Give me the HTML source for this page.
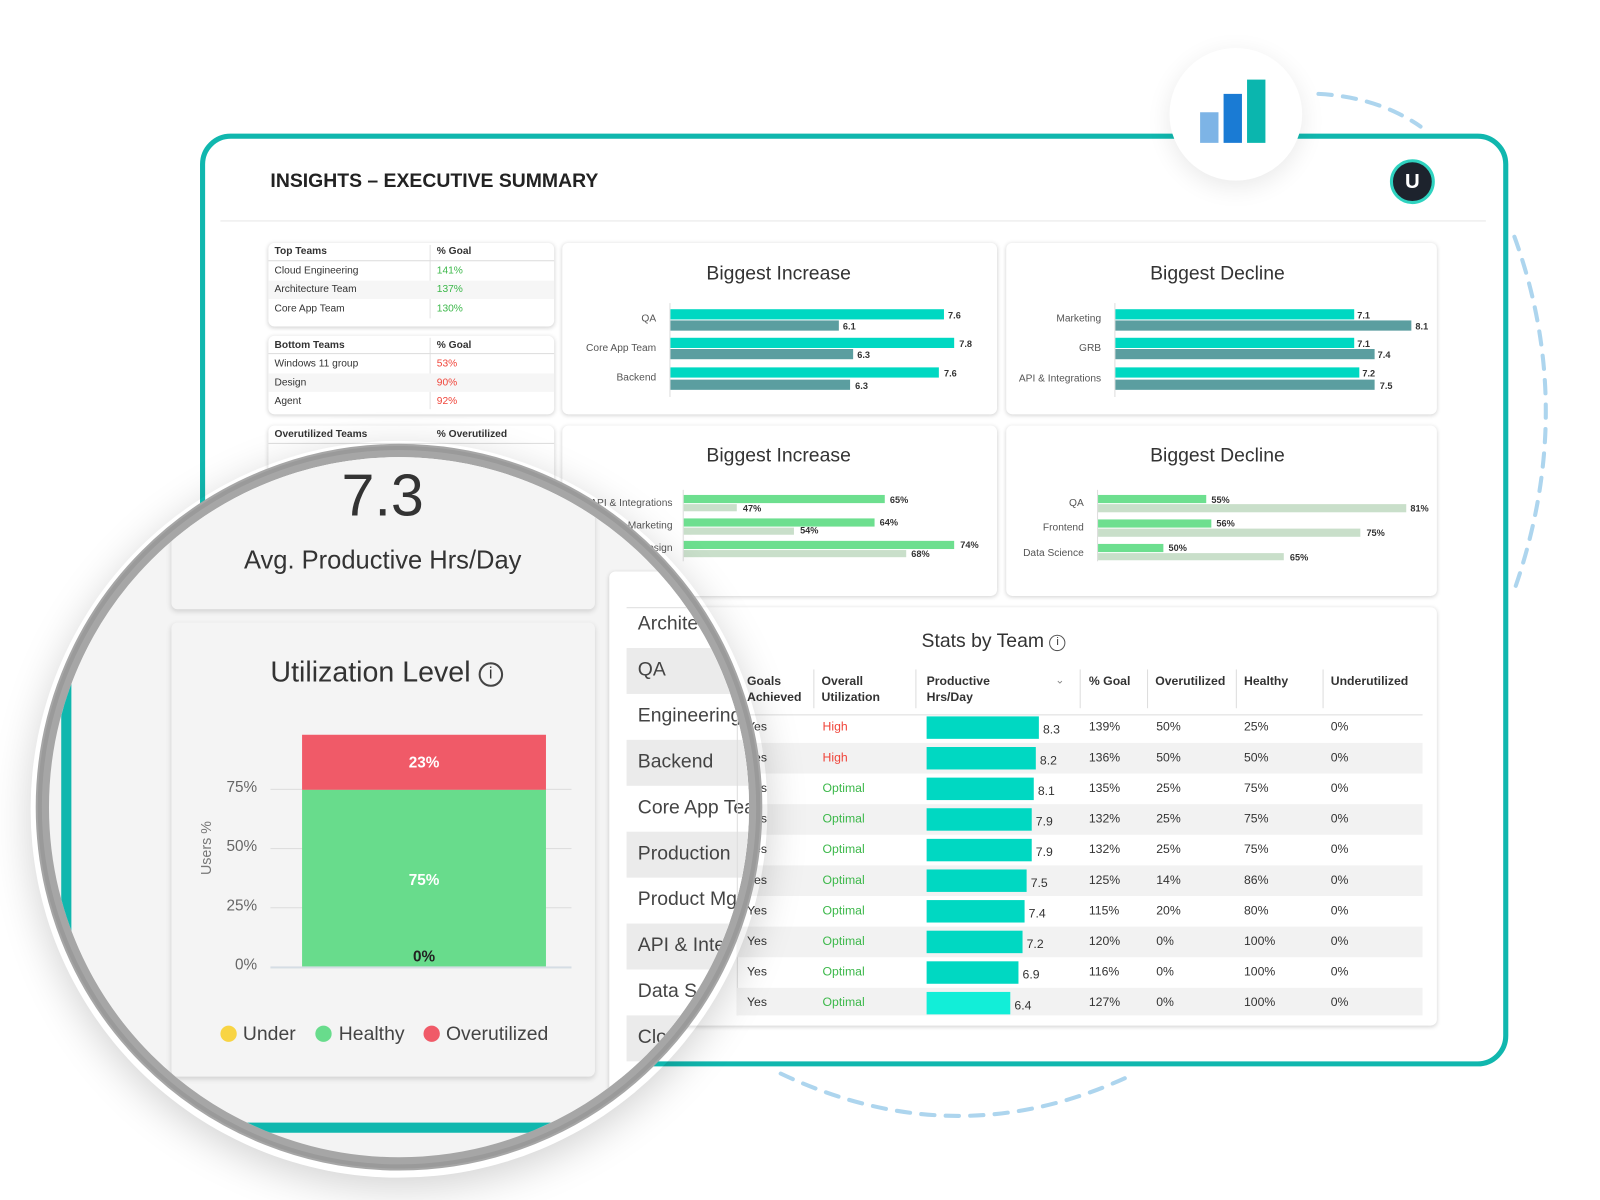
<!DOCTYPE html>
<html><head><meta charset="utf-8">
<style>
*{margin:0;padding:0;box-sizing:border-box}
html,body{width:1600px;height:1200px;overflow:hidden;background:#fff;font-family:"Liberation Sans",sans-serif;color:#333}
#w{position:absolute;left:0;top:0;width:1570px;height:1176px;transform:scale(1.0205);transform-origin:0 0}
.a{position:absolute}
.t{position:absolute;white-space:nowrap}
.card{position:absolute;background:#fff;border-radius:6px;box-shadow:0 1px 4px rgba(0,0,0,.18)}
.sm{font-size:10px;color:#333}
.vl{font-size:9px;font-weight:bold;color:#333}
.lb{font-size:10px;color:#555;text-align:right;width:120px}
.ttl{font-size:19px;color:#333;text-align:center;width:300px}
.tc{background:#00d8c2}.dk{background:#5b9ea0}.gr{background:#6ddf8f}.lg{background:#c9dfca}
.hd{font-size:12px;font-weight:bold;color:#333;line-height:16px}
.cell{font-size:12px;color:#333}
</style></head><body>
<div id="w">
<svg class="a" style="left:0;top:0" width="1560" height="1170">
<g fill="none" stroke="#add5ee" stroke-width="4" stroke-dasharray="13 11" stroke-linecap="round">
<path d="M1292 92 Q1350 95 1392 124"/>
<path d="M1484 232 Q1545 400 1485 575"/>
<path d="M765 1052 Q940 1135 1112 1052"/>
</g></svg>
<div class="a" style="left:196px;top:131px;width:1282px;height:914px;border:5px solid #10b7ae;border-radius:30px;background:#fff"></div>
<div class="t" style="left:265px;top:167px;font-size:19px;font-weight:bold;color:#222">INSIGHTS – EXECUTIVE SUMMARY</div>
<div class="a" style="left:216px;top:216px;width:1240px;height:1px;background:#e6e6e6"></div>
<div class="a" style="left:1362px;top:156px;width:44px;height:44px;border-radius:50%;background:#1d232d;border:3px solid #2fd3c0;color:#fff;font-weight:bold;font-size:20px;text-align:center;line-height:38px">U</div>
<div class="a" style="left:1146px;top:47px;width:130px;height:130px;border-radius:50%;background:#fff;box-shadow:0 6px 24px rgba(0,0,0,.09)"></div>
<div class="a" style="left:1176px;top:110px;width:18px;height:30px;background:#7db4e6"></div>
<div class="a" style="left:1199px;top:92px;width:18px;height:48px;background:#1a7bd4"></div>
<div class="a" style="left:1222px;top:78px;width:18px;height:62px;background:#0bb6ae"></div>

<div class="card" style="left:263px;top:238px;width:280px;height:82px"></div>
<div class="card" style="left:263px;top:329px;width:280px;height:77px"></div>
<div class="card" style="left:263px;top:417px;width:280px;height:120px"></div>
<div class="a" style="left:421px;top:240px;width:1px;height:72px;background:#e3e3e3"></div>
<div class="a" style="left:421px;top:331px;width:1px;height:70px;background:#e3e3e3"></div>
<div class="a" style="left:263px;top:255px;width:280px;height:1px;background:#ddd"></div>
<div class="a" style="left:263px;top:346px;width:280px;height:1px;background:#ddd"></div>
<div class="a" style="left:263px;top:434px;width:280px;height:1px;background:#ddd"></div>
<div class="a" style="left:263px;top:275px;width:280px;height:18px;background:#f6f6f6"></div>
<div class="a" style="left:263px;top:366px;width:280px;height:18px;background:#f6f6f6"></div>
<div class="t sm" style="left:269px;top:241px;font-weight:bold">Top Teams</div>
<div class="t sm" style="left:428px;top:241px;font-weight:bold">% Goal</div>
<div class="t sm" style="left:269px;top:260px">Cloud Engineering</div><div class="t sm" style="left:428px;top:260px;color:#3cb84a">141%</div>
<div class="t sm" style="left:269px;top:278px">Architecture Team</div><div class="t sm" style="left:428px;top:278px;color:#3cb84a">137%</div>
<div class="t sm" style="left:269px;top:297px">Core App Team</div><div class="t sm" style="left:428px;top:297px;color:#3cb84a">130%</div>
<div class="t sm" style="left:269px;top:333px;font-weight:bold">Bottom Teams</div>
<div class="t sm" style="left:428px;top:333px;font-weight:bold">% Goal</div>
<div class="t sm" style="left:269px;top:351px">Windows 11 group</div><div class="t sm" style="left:428px;top:351px;color:#f0453a">53%</div>
<div class="t sm" style="left:269px;top:370px">Design</div><div class="t sm" style="left:428px;top:370px;color:#f0453a">90%</div>
<div class="t sm" style="left:269px;top:388px">Agent</div><div class="t sm" style="left:428px;top:388px;color:#f0453a">92%</div>
<div class="t sm" style="left:269px;top:420px;font-weight:bold">Overutilized Teams</div>
<div class="t sm" style="left:428px;top:420px;font-weight:bold">% Overutilized</div>

<div class="card" style="left:551px;top:238px;width:426px;height:168px"></div>
<div class="t ttl" style="left:613px;top:258px">Biggest Increase</div>
<div class="a" style="left:656px;top:297px;width:1px;height:92px;background:#ddd"></div>
<div class="t lb" style="left:523px;top:307px">QA</div>
<div class="t lb" style="left:523px;top:336px">Core App Team</div>
<div class="t lb" style="left:523px;top:365px">Backend</div>
<div class="a tc" style="left:657px;top:303px;width:268px;height:10px"></div><div class="t vl" style="left:929px;top:304px">7.6</div>
<div class="a dk" style="left:657px;top:314px;width:165px;height:10px"></div><div class="t vl" style="left:826px;top:315px">6.1</div>
<div class="a tc" style="left:657px;top:331px;width:278px;height:10px"></div><div class="t vl" style="left:940px;top:332px">7.8</div>
<div class="a dk" style="left:657px;top:342px;width:179px;height:10px"></div><div class="t vl" style="left:840px;top:343px">6.3</div>
<div class="a tc" style="left:657px;top:360px;width:263px;height:10px"></div><div class="t vl" style="left:925px;top:361px">7.6</div>
<div class="a dk" style="left:657px;top:372px;width:176px;height:10px"></div><div class="t vl" style="left:838px;top:373px">6.3</div>

<div class="card" style="left:986px;top:238px;width:422px;height:168px"></div>
<div class="t ttl" style="left:1043px;top:258px">Biggest Decline</div>
<div class="a" style="left:1092px;top:297px;width:1px;height:92px;background:#ddd"></div>
<div class="t lb" style="left:959px;top:307px">Marketing</div>
<div class="t lb" style="left:959px;top:336px">GRB</div>
<div class="t lb" style="left:959px;top:366px">API &amp; Integrations</div>
<div class="a tc" style="left:1093px;top:303px;width:234px;height:10px"></div><div class="t vl" style="left:1330px;top:304px">7.1</div>
<div class="a dk" style="left:1093px;top:314px;width:290px;height:10px"></div><div class="t vl" style="left:1387px;top:315px">8.1</div>
<div class="a tc" style="left:1093px;top:331px;width:234px;height:10px"></div><div class="t vl" style="left:1330px;top:332px">7.1</div>
<div class="a dk" style="left:1093px;top:342px;width:254px;height:10px"></div><div class="t vl" style="left:1350px;top:343px">7.4</div>
<div class="a tc" style="left:1093px;top:360px;width:239px;height:10px"></div><div class="t vl" style="left:1335px;top:361px">7.2</div>
<div class="a dk" style="left:1093px;top:372px;width:254px;height:10px"></div><div class="t vl" style="left:1352px;top:373px">7.5</div>

<div class="card" style="left:551px;top:417px;width:426px;height:167px"></div>
<div class="t ttl" style="left:613px;top:436px">Biggest Increase</div>
<div class="a" style="left:669px;top:480px;width:1px;height:70px;background:#ddd"></div>
<div class="t lb" style="left:539px;top:488px">API &amp; Integrations</div>
<div class="t lb" style="left:539px;top:510px">Marketing</div>
<div class="t lb" style="left:539px;top:532px">Design</div>
<div class="a gr" style="left:670px;top:485px;width:197px;height:8px"></div><div class="t vl" style="left:872px;top:485px">65%</div>
<div class="a lg" style="left:670px;top:494px;width:52px;height:7px"></div><div class="t vl" style="left:728px;top:493px">47%</div>
<div class="a gr" style="left:670px;top:508px;width:187px;height:8px"></div><div class="t vl" style="left:862px;top:507px">64%</div>
<div class="a lg" style="left:670px;top:517px;width:108px;height:7px"></div><div class="t vl" style="left:784px;top:515px">54%</div>
<div class="a gr" style="left:670px;top:530px;width:265px;height:8px"></div><div class="t vl" style="left:941px;top:529px">74%</div>
<div class="a lg" style="left:670px;top:539px;width:218px;height:7px"></div><div class="t vl" style="left:893px;top:538px">68%</div>

<div class="card" style="left:986px;top:417px;width:422px;height:167px"></div>
<div class="t ttl" style="left:1043px;top:436px">Biggest Decline</div>
<div class="a" style="left:1075px;top:480px;width:1px;height:70px;background:#ddd"></div>
<div class="t lb" style="left:942px;top:488px">QA</div>
<div class="t lb" style="left:942px;top:512px">Frontend</div>
<div class="t lb" style="left:942px;top:537px">Data Science</div>
<div class="a gr" style="left:1076px;top:485px;width:106px;height:8px"></div><div class="t vl" style="left:1187px;top:485px">55%</div>
<div class="a lg" style="left:1076px;top:494px;width:302px;height:8px"></div><div class="t vl" style="left:1382px;top:493px">81%</div>
<div class="a gr" style="left:1076px;top:509px;width:111px;height:8px"></div><div class="t vl" style="left:1192px;top:508px">56%</div>
<div class="a lg" style="left:1076px;top:518px;width:257px;height:8px"></div><div class="t vl" style="left:1339px;top:517px">75%</div>
<div class="a gr" style="left:1076px;top:533px;width:64px;height:8px"></div><div class="t vl" style="left:1145px;top:532px">50%</div>
<div class="a lg" style="left:1076px;top:542px;width:182px;height:7px"></div><div class="t vl" style="left:1264px;top:541px">65%</div>

<div class="card" style="left:596px;top:595px;width:812px;height:410px"></div>
<div class="t" style="left:903px;top:618px;font-size:19px;color:#333">Stats by Team <span style="display:inline-block;width:16px;height:16px;border:1.5px solid #555;border-radius:50%;font-size:11px;text-align:center;line-height:13px;vertical-align:2px">i</span></div>
<div class="a" style="left:722px;top:700px;width:672px;height:1px;background:#ddd"></div>
<div class="t hd" style="left:732px;top:659px">Goals<br>Achieved</div>
<div class="t hd" style="left:805px;top:659px">Overall<br>Utilization</div>
<div class="t hd" style="left:908px;top:659px">Productive<br>Hrs/Day</div>
<div class="t" style="left:1034px;top:660px;font-size:11px;color:#888">⌄</div>
<div class="t hd" style="left:1067px;top:659px">% Goal</div>
<div class="t hd" style="left:1132px;top:659px">Overutilized</div>
<div class="t hd" style="left:1219px;top:659px">Healthy</div>
<div class="t hd" style="left:1304px;top:659px">Underutilized</div>
<div class="a" style="left:797px;top:656px;width:1px;height:38px;background:#ddd"></div>
<div class="a" style="left:897px;top:656px;width:1px;height:38px;background:#ddd"></div>
<div class="a" style="left:1058px;top:656px;width:1px;height:38px;background:#ddd"></div>
<div class="a" style="left:1124px;top:656px;width:1px;height:38px;background:#ddd"></div>
<div class="a" style="left:1211px;top:656px;width:1px;height:38px;background:#ddd"></div>
<div class="a" style="left:1296px;top:656px;width:1px;height:38px;background:#ddd"></div>
<div class="a" style="left:722px;top:700px;width:1px;height:295px;background:#ddd"></div>

<div class="a" style="left:722px;top:728px;width:672px;height:30px;background:#f2f2f2"></div>
<div class="a" style="left:722px;top:788px;width:672px;height:30px;background:#f2f2f2"></div>
<div class="a" style="left:722px;top:848px;width:672px;height:30px;background:#f2f2f2"></div>
<div class="a" style="left:722px;top:908px;width:672px;height:30px;background:#f2f2f2"></div>
<div class="a" style="left:722px;top:968px;width:672px;height:27px;background:#f2f2f2"></div>

<div class="t cell" style="left:732px;top:705px">Yes</div><div class="t cell" style="left:806px;top:705px;color:#f0453a">High</div><div class="a tc" style="left:908px;top:702px;width:110px;height:22px"></div><div class="t cell" style="left:1022px;top:708px">8.3</div><div class="t cell" style="left:1067px;top:705px">139%</div><div class="t cell" style="left:1133px;top:705px">50%</div><div class="t cell" style="left:1219px;top:705px">25%</div><div class="t cell" style="left:1304px;top:705px">0%</div>
<div class="t cell" style="left:732px;top:735px">Yes</div><div class="t cell" style="left:806px;top:735px;color:#f0453a">High</div><div class="a tc" style="left:908px;top:732px;width:107px;height:22px"></div><div class="t cell" style="left:1019px;top:738px">8.2</div><div class="t cell" style="left:1067px;top:735px">136%</div><div class="t cell" style="left:1133px;top:735px">50%</div><div class="t cell" style="left:1219px;top:735px">50%</div><div class="t cell" style="left:1304px;top:735px">0%</div>
<div class="t cell" style="left:732px;top:765px">Yes</div><div class="t cell" style="left:806px;top:765px;color:#3cb84a">Optimal</div><div class="a tc" style="left:908px;top:762px;width:105px;height:22px"></div><div class="t cell" style="left:1017px;top:768px">8.1</div><div class="t cell" style="left:1067px;top:765px">135%</div><div class="t cell" style="left:1133px;top:765px">25%</div><div class="t cell" style="left:1219px;top:765px">75%</div><div class="t cell" style="left:1304px;top:765px">0%</div>
<div class="t cell" style="left:732px;top:795px">Yes</div><div class="t cell" style="left:806px;top:795px;color:#3cb84a">Optimal</div><div class="a tc" style="left:908px;top:792px;width:103px;height:22px"></div><div class="t cell" style="left:1015px;top:798px">7.9</div><div class="t cell" style="left:1067px;top:795px">132%</div><div class="t cell" style="left:1133px;top:795px">25%</div><div class="t cell" style="left:1219px;top:795px">75%</div><div class="t cell" style="left:1304px;top:795px">0%</div>
<div class="t cell" style="left:732px;top:825px">Yes</div><div class="t cell" style="left:806px;top:825px;color:#3cb84a">Optimal</div><div class="a tc" style="left:908px;top:822px;width:103px;height:22px"></div><div class="t cell" style="left:1015px;top:828px">7.9</div><div class="t cell" style="left:1067px;top:825px">132%</div><div class="t cell" style="left:1133px;top:825px">25%</div><div class="t cell" style="left:1219px;top:825px">75%</div><div class="t cell" style="left:1304px;top:825px">0%</div>
<div class="t cell" style="left:732px;top:855px">Yes</div><div class="t cell" style="left:806px;top:855px;color:#3cb84a">Optimal</div><div class="a tc" style="left:908px;top:852px;width:98px;height:22px"></div><div class="t cell" style="left:1010px;top:858px">7.5</div><div class="t cell" style="left:1067px;top:855px">125%</div><div class="t cell" style="left:1133px;top:855px">14%</div><div class="t cell" style="left:1219px;top:855px">86%</div><div class="t cell" style="left:1304px;top:855px">0%</div>
<div class="t cell" style="left:732px;top:885px">Yes</div><div class="t cell" style="left:806px;top:885px;color:#3cb84a">Optimal</div><div class="a tc" style="left:908px;top:882px;width:96px;height:22px"></div><div class="t cell" style="left:1008px;top:888px">7.4</div><div class="t cell" style="left:1067px;top:885px">115%</div><div class="t cell" style="left:1133px;top:885px">20%</div><div class="t cell" style="left:1219px;top:885px">80%</div><div class="t cell" style="left:1304px;top:885px">0%</div>
<div class="t cell" style="left:732px;top:915px">Yes</div><div class="t cell" style="left:806px;top:915px;color:#3cb84a">Optimal</div><div class="a tc" style="left:908px;top:912px;width:94px;height:22px"></div><div class="t cell" style="left:1006px;top:918px">7.2</div><div class="t cell" style="left:1067px;top:915px">120%</div><div class="t cell" style="left:1133px;top:915px">0%</div><div class="t cell" style="left:1219px;top:915px">100%</div><div class="t cell" style="left:1304px;top:915px">0%</div>
<div class="t cell" style="left:732px;top:945px">Yes</div><div class="t cell" style="left:806px;top:945px;color:#3cb84a">Optimal</div><div class="a tc" style="left:908px;top:942px;width:90px;height:22px"></div><div class="t cell" style="left:1002px;top:948px">6.9</div><div class="t cell" style="left:1067px;top:945px">116%</div><div class="t cell" style="left:1133px;top:945px">0%</div><div class="t cell" style="left:1219px;top:945px">100%</div><div class="t cell" style="left:1304px;top:945px">0%</div>
<div class="t cell" style="left:732px;top:975px">Yes</div><div class="t cell" style="left:806px;top:975px;color:#3cb84a">Optimal</div><div class="a tc" style="left:908px;top:972px;width:82px;height:22px;background:#12eed8"></div><div class="t cell" style="left:994px;top:978px">6.4</div><div class="t cell" style="left:1067px;top:975px">127%</div><div class="t cell" style="left:1133px;top:975px">0%</div><div class="t cell" style="left:1219px;top:975px">100%</div><div class="t cell" style="left:1304px;top:975px">0%</div>

<div class="a" style="left:30px;top:432px;width:722px;height:722px;border-radius:50%;box-shadow:0 10px 40px rgba(0,0,0,.18)"></div>
<div class="a" style="left:35px;top:435px;width:712px;height:712px;border-radius:50%;overflow:hidden;border:13px solid #a6a6a6;background:#f3f3f3">
 <div class="a" style="left:-48px;top:-448px;width:1560px;height:1170px">
  <div class="a" style="left:60px;top:430px;width:10px;height:580px;background:#10b7ae"></div>
  <div class="a" style="left:60px;top:1100px;width:700px;height:10px;background:#10b7ae"></div>
  <div class="a" style="left:70px;top:420px;width:700px;height:680px;background:#f4f4f4"></div>
  <div class="card" style="left:168px;top:400px;width:415px;height:197px;background:#f4f4f4;box-shadow:0 2px 5px rgba(0,0,0,.15)"></div>
  <div class="t" style="left:175px;top:452px;width:400px;text-align:center;font-size:58px;color:#333">7.3</div>
  <div class="t" style="left:175px;top:535px;width:400px;text-align:center;font-size:25px;color:#333">Avg. Productive Hrs/Day</div>
  <div class="card" style="left:168px;top:610px;width:415px;height:445px;background:#f4f4f4;box-shadow:0 2px 5px rgba(0,0,0,.15)"></div>
  <div class="t" style="left:265px;top:643px;font-size:28px;color:#333">Utilization Level <span style="display:inline-block;width:24px;height:24px;border:2px solid #444;border-radius:50%;font-size:16px;text-align:center;line-height:20px;vertical-align:3px">i</span></div>
  <div class="a" style="left:265px;top:773px;width:295px;height:1px;background:#ddd"></div>
  <div class="a" style="left:265px;top:831px;width:295px;height:1px;background:#ddd"></div>
  <div class="a" style="left:265px;top:889px;width:295px;height:1px;background:#ddd"></div>
  <div class="a" style="left:265px;top:947px;width:295px;height:2px;background:#d5dde4"></div>
  <div class="t" style="left:200px;top:763px;width:52px;text-align:right;font-size:15px;color:#666">75%</div>
  <div class="t" style="left:200px;top:821px;width:52px;text-align:right;font-size:15px;color:#666">50%</div>
  <div class="t" style="left:200px;top:879px;width:52px;text-align:right;font-size:15px;color:#666">25%</div>
  <div class="t" style="left:200px;top:937px;width:52px;text-align:right;font-size:15px;color:#666">0%</div>
  <div class="t" style="left:172px;top:823px;font-size:14px;color:#777;transform:rotate(-90deg);width:60px;text-align:center">Users %</div>
  <div class="a" style="left:296px;top:720px;width:239px;height:54px;background:#f05a68"></div>
  <div class="a" style="left:296px;top:774px;width:239px;height:173px;background:#68dc8c"></div>
  <div class="t" style="left:296px;top:739px;width:239px;text-align:center;font-size:15px;font-weight:bold;color:#fff">23%</div>
  <div class="t" style="left:296px;top:854px;width:239px;text-align:center;font-size:15px;font-weight:bold;color:#fff">75%</div>
  <div class="t" style="left:296px;top:929px;width:239px;text-align:center;font-size:15px;font-weight:bold;color:#222">0%</div>
  <div class="a" style="left:216px;top:1005px;width:16px;height:16px;border-radius:50%;background:#f8d443"></div>
  <div class="t" style="left:238px;top:1003px;font-size:19px;color:#444">Under</div>
  <div class="a" style="left:309px;top:1005px;width:16px;height:16px;border-radius:50%;background:#68dc8c"></div>
  <div class="t" style="left:332px;top:1003px;font-size:19px;color:#444">Healthy</div>
  <div class="a" style="left:415px;top:1005px;width:16px;height:16px;border-radius:50%;background:#f05a68"></div>
  <div class="t" style="left:437px;top:1003px;font-size:19px;color:#444">Overutilized</div>
  <div class="card" style="left:597px;top:560px;width:300px;height:520px;background:#fff"></div>
  <div class="a" style="left:614px;top:595px;width:260px;height:1px;background:#ddd"></div>
  <div class="a" style="left:614px;top:635px;width:260px;height:45px;background:#ebebeb"></div>
  <div class="a" style="left:614px;top:725px;width:260px;height:45px;background:#ebebeb"></div>
  <div class="a" style="left:614px;top:815px;width:260px;height:45px;background:#ebebeb"></div>
  <div class="a" style="left:614px;top:905px;width:260px;height:45px;background:#ebebeb"></div>
  <div class="a" style="left:614px;top:995px;width:260px;height:45px;background:#ebebeb"></div>
  <div class="t" style="left:625px;top:601px;font-size:19px;color:#444">Architecture</div>
  <div class="t" style="left:625px;top:646px;font-size:19px;color:#444">QA</div>
  <div class="t" style="left:625px;top:691px;font-size:19px;color:#444">Engineering</div>
  <div class="t" style="left:625px;top:736px;font-size:19px;color:#444">Backend</div>
  <div class="t" style="left:625px;top:781px;font-size:19px;color:#444">Core App Team</div>
  <div class="t" style="left:625px;top:826px;font-size:19px;color:#444">Production</div>
  <div class="t" style="left:625px;top:871px;font-size:19px;color:#444">Product Mgmt</div>
  <div class="t" style="left:625px;top:916px;font-size:19px;color:#444">API &amp; Integrations</div>
  <div class="t" style="left:625px;top:961px;font-size:19px;color:#444">Data Science</div>
  <div class="t" style="left:625px;top:1006px;font-size:19px;color:#444">Cloud</div>
  <div class="a" style="left:722px;top:700px;width:1px;height:300px;background:#ddd"></div>
 </div>
</div>
<div class="a" style="left:37px;top:437px;width:708px;height:708px;border-radius:50%;border:4px solid #8e8e8e;opacity:.5"></div>
</div>
</body></html>
